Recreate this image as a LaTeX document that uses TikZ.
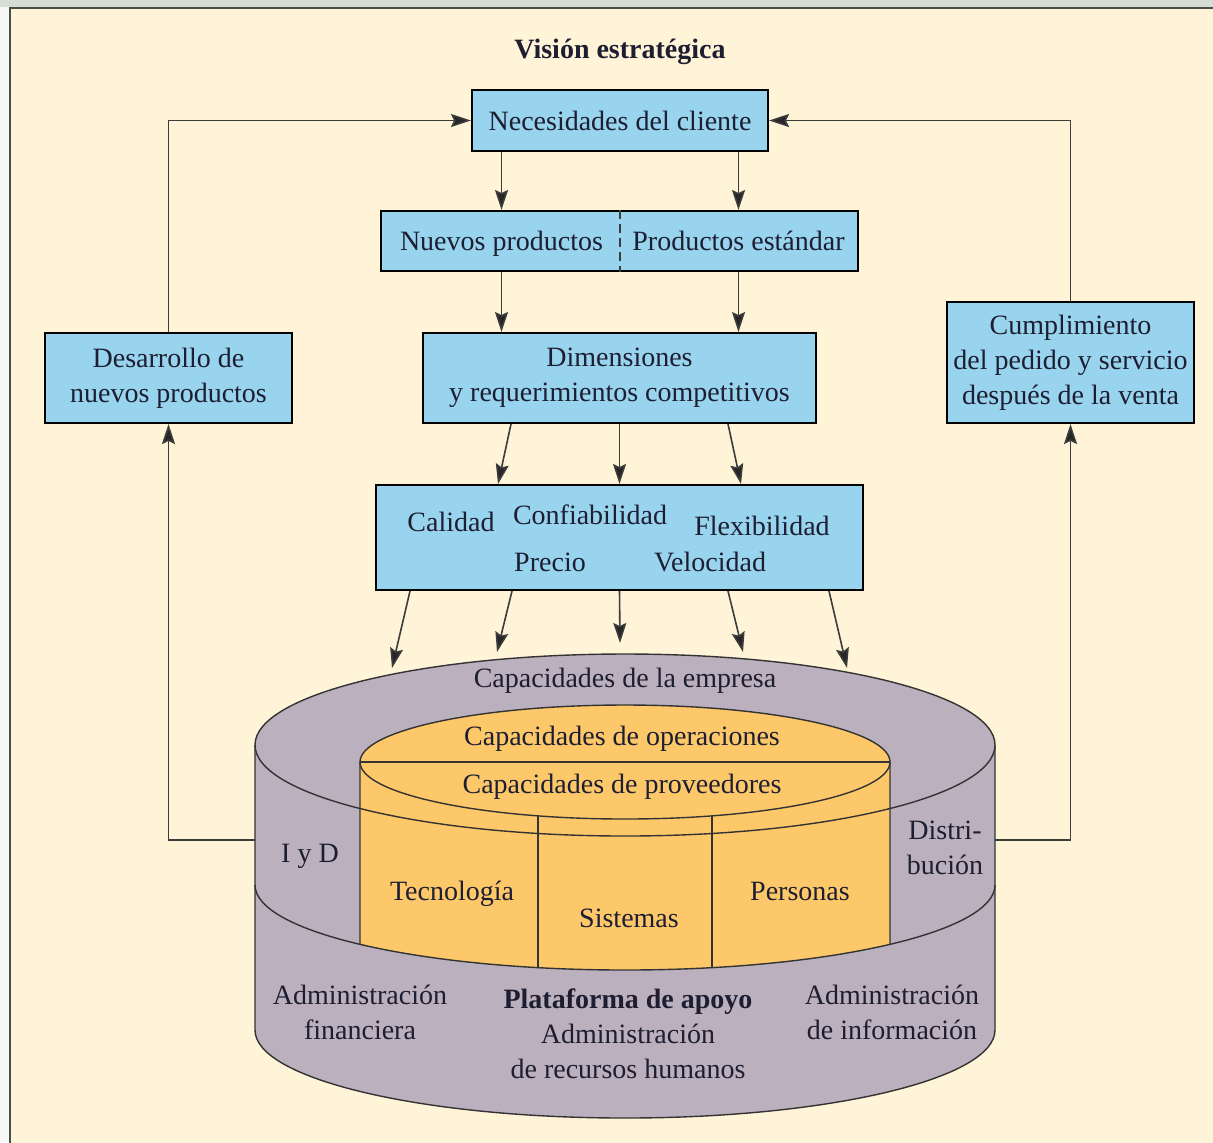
\documentclass[tikz,border=0pt]{standalone}
\usepackage{fontspec}
\setmainfont{Liberation Serif}
\usetikzlibrary{calc,positioning,arrows.meta}
\definecolor{panel}{RGB}{255,244,215}
\definecolor{boxblue}{RGB}{152,212,238}
\definecolor{cylgray}{RGB}{187,176,189}
\definecolor{cylorange}{RGB}{253,200,106}
\definecolor{ink}{RGB}{30,30,50}
\definecolor{wire}{RGB}{60,60,60}
\tikzstyle{entry}=[draw=black, fill=boxblue, line width=1pt, align=center, text=ink, inner sep=0pt]
\tikzstyle{lbl}=[align=center, text=ink, inner sep=0pt]
\tikzstyle{word}=[lbl, text height=12pt, text depth=2.5pt]
\tikzstyle{arr}=[draw=wire, line width=0.8pt, -{Stealth[length=10pt,width=6.5pt,inset=1.5pt,fill=black!85]}]
\tikzstyle{cyl}=[draw=black!80, line width=0.7pt]

\begin{document}
\begin{tikzpicture}[x=0.5pt, y=-0.5pt, font=\fontsize{14}{17.5}\selectfont]
\useasboundingbox (0,0) rectangle (1213,1142);
\fill[black!3] (0,0) rectangle (1213,1142);
\fill[green!10!gray!30] (0,0) rectangle (1213,7);
\fill[panel] (10,8) rectangle (1240,1170);
\draw[line width=1.3pt, black!70] (10,1170) -- (10,8) -- (1240,8);

\node (title) at (620,49) [word, font=\fontsize{14}{17.5}\selectfont\bfseries] {Visión estratégica};

\node (nec) at (620,120.5) [entry, minimum width=148pt, minimum height=30.5pt] {Necesidades del cliente};
\node (prod) at (619.5,241) [entry, minimum width=238.5pt, minimum height=30pt] {};
\node (nuevos) at ([xshift=-59pt]prod) [word] {Nuevos productos};
\node (estandar) at ([xshift=59.5pt]prod) [word] {Productos estándar};
\draw[wire, line width=1pt, dash pattern=on 4.5pt off 2.5pt] (prod.north) -- (prod.south);

\node (dim) at (619.5,378) [entry, minimum width=196.5pt, minimum height=45pt] {Dimensiones\\y requerimientos competitivos};
\node (comp) at (619.5,537.5) [entry, minimum width=243.5pt, minimum height=52.5pt] {};
\node (calidad) at (451,522) [word] {Calidad};
\node (confiab) at (590,515) [word] {Confiabilidad};
\node (flexib) at (762,526) [word] {Flexibilidad};
\node (precio) at (550,562) [word] {Precio};
\node (velocidad) at (710,562) [word] {Velocidad};

\node (des) at (168.5,378) [entry, minimum width=123.5pt, minimum height=45pt] {Desarrollo de\\nuevos productos};
\node (cum) at (1070.5,362.5) [entry, minimum width=123.5pt, minimum height=60.5pt] {Cumplimiento\\del pedido y servicio\\después de la venta};

% cylinder
\fill[cylgray] (255,745) -- (255,1030) arc[start angle=180, end angle=0, x radius=370, y radius=88]
  -- (995,745) arc[start angle=0, end angle=-180, x radius=370, y radius=91] -- cycle;
\draw[cyl] (255,745) -- (255,1030) arc[start angle=180, end angle=0, x radius=370, y radius=88] -- (995,745);
\fill[cylorange] (360,762) arc[start angle=180, end angle=360, x radius=265, y radius=57]
  -- (890,944.3) arc[start angle=44.26, end angle=135.74, x radius=370, y radius=85] -- cycle;
\draw[cyl] (360,944.3) -- (360,762) arc[start angle=180, end angle=360, x radius=265, y radius=57] -- (890,944.3);
\draw[cyl] (360,762) -- (890,762);
\draw[cyl] (360,762) arc[start angle=180, end angle=0, x radius=265, y radius=57];
\draw[cyl] (255,885) arc[start angle=180, end angle=0, x radius=370, y radius=85];
\draw[cyl] (625,745) ellipse[x radius=370, y radius=91];
\draw[cyl] (538,816) -- (538,968);
\draw[cyl] (712,816) -- (712,968);

\coordinate (iyd) at (255,840);
\coordinate (dis) at (995,840);
\coordinate (t1) at (392,668);
\coordinate (t2) at (497,652);
\coordinate (t3) at (620,643);
\coordinate (t4) at (743,652);
\coordinate (t5) at (847,668);

\node (empresa) at (625,678) [word] {Capacidades de la empresa};
\node (oper) at (622,736) [word] {Capacidades de operaciones};
\node (prov) at (622,784) [word] {Capacidades de proveedores};
\node (iyDtxt) at (310,853) [word] {I y D};
\node (distri) at (945,848) [lbl] {Distri-\\bución};
\node (tecno) at (452,891) [word] {Tecnología};
\node (sist) at (629,918) [word] {Sistemas};
\node (pers) at (800,891) [word] {Personas};
\node (finan) at (360,1012) [lbl] {Administración\\financiera};
\node (apoyo) at (628,1034) [lbl] {\textbf{Plataforma de apoyo}\\Administración\\de recursos humanos};
\node (info) at (892,1012) [lbl] {Administración\\de información};

\draw[arr] (nec.south -| nuevos) -- (prod.north -| nuevos);
\draw[arr] (nec.south -| estandar) -- (prod.north -| estandar);
\draw[arr] (prod.south -| nuevos) -- (dim.north -| nuevos);
\draw[arr] (prod.south -| estandar) -- (dim.north -| estandar);

\draw[arr] ($(dim.south)+(-108.5,0)$) -- ($(comp.north)+(-121.5,0)$);
\draw[arr] (dim.south) -- (comp.north);
\draw[arr] ($(dim.south)+(108.5,0)$) -- ($(comp.north)+(121.5,0)$);

\foreach \sx/\tip in {-209.5/t1, -107.5/t2, 0/t3, 108.5/t4, 209.5/t5}
  \draw[arr] ($(comp.south)+(\sx,0)$) -- (\tip);

\draw[arr] (iyd) -| (des.south);
\draw[arr] (des.north) |- (nec.west);
\draw[arr] (dis) -| (cum.south);
\draw[arr] (cum.north) |- (nec.east);
\end{tikzpicture}
\end{document}
